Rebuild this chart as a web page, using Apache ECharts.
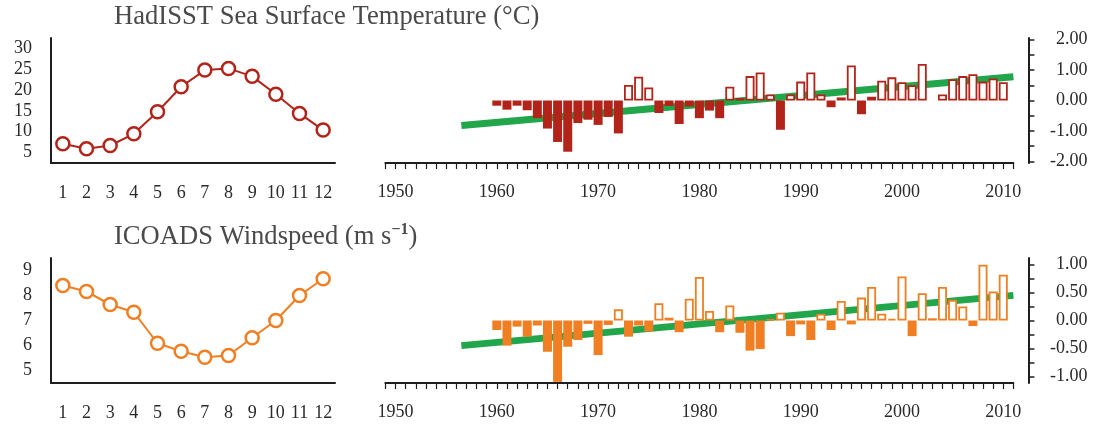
<!DOCTYPE html>
<html>
<head>
<meta charset="utf-8">
<script src="https://cdn.jsdelivr.net/npm/echarts@6/dist/echarts.min.js"></script>
<style>
html, body { margin: 0; padding: 0; background: #fff; }
#chart { width: 1105px; height: 426px; }
</style>
</head>
<body>
<div id="chart"></div>
<script>
// monthly climatology (left panels)
var months = ['1', '2', '3', '4', '5', '6', '7', '8', '9', '10', '11', '12'];
var sstMonthly = [7.1, 5.9, 6.7, 9.5, 14.8, 20.8, 24.8, 25.2, 23.3, 19.0, 14.4, 10.4];
var windMonthly = [8.4, 8.16, 7.64, 7.33, 6.09, 5.77, 5.53, 5.6, 6.31, 7.0, 8.0, 8.67];

// yearly anomalies (right panels), 1960..2010
var years = [1960, 1961, 1962, 1963, 1964, 1965, 1966, 1967, 1968, 1969,
             1970, 1971, 1972, 1973, 1974, 1975, 1976, 1977, 1978, 1979,
             1980, 1981, 1982, 1983, 1984, 1985, 1986, 1987, 1988, 1989,
             1990, 1991, 1992, 1993, 1994, 1995, 1996, 1997, 1998, 1999,
             2000, 2001, 2002, 2003, 2004, 2005, 2006, 2007, 2008, 2009, 2010];
var sstAnom = [-0.17, -0.30, -0.17, -0.32, -0.58, -0.92, -1.36, -1.68, -0.74, -0.63,
               -0.80, -0.54, -1.08, 0.51, 0.78, 0.43, -0.41, -0.18, -0.77, -0.20,
               -0.58, -0.33, -0.58, 0.45, 0.08, 0.80, 0.92, 0.20, -0.96, 0.20,
               0.62, 0.92, 0.20, -0.22, 0.10, 1.15, -0.45, 0.12, 0.65, 0.76,
               0.60, 0.50, 1.20, null, 0.20, 0.70, 0.80, 0.86, 0.62, 0.72, 0.60];
var windAnom = [-0.17, -0.45, -0.11, -0.29, -0.09, -0.56, -1.10, -0.47, -0.35, -0.06,
                -0.62, -0.08, 0.20, -0.29, -0.09, -0.20, 0.31, 0.05, -0.21, 0.39,
                0.78, 0.17, -0.21, 0.27, -0.22, -0.54, -0.51, 0.02, 0.14, -0.28,
                -0.07, -0.35, 0.12, -0.17, 0.35, -0.07, 0.41, 0.60, 0.12, 0.03,
                0.79, -0.28, 0.49, 0.04, 0.60, 0.37, 0.25, -0.10, 1.00, 0.52, 0.82];

// linear trends (end points)
var trendYears = [1956.5, 2011];
var sstTrend = [-0.82, 0.78];
var windTrend = [-0.45, 0.45];

// tick labels
var sstTicks = [5, 10, 15, 20, 25, 30];
var windTicks = [5, 6, 7, 8, 9];
var sstAnomTicks = [-2, -1, 0, 1, 2];
var windAnomTicks = [-1, -0.5, 0, 0.5, 1];
var decadeTicks = [1950, 1960, 1970, 1980, 1990, 2000, 2010];

var SERIF = '"Liberation Serif", "DejaVu Serif", serif';
var RED = '#b2241a';
var ORANGE = '#ef7f22';
var GREEN = '#21a64b';
var INK = '#1e1e1e';

function steps(a, b, s) {
    var out = [];
    for (var v = a; v <= b + 1e-9; v += s) out.push(+v.toFixed(4));
    return out;
}

function barData(vals, color) {
    var out = [];
    years.forEach(function (y, i) {
        var v = vals[i];
        if (v == null) return;
        if (v >= 0) {
            out.push({ value: [y, v], itemStyle: { color: '#fff', borderColor: color, borderWidth: 1.8 } });
        } else {
            out.push({ value: [y, v], itemStyle: { color: color } });
        }
    });
    return out;
}

var lineAxis = { show: true, onZero: false, lineStyle: { color: INK, width: 2 } };
var labelStyle = { color: '#2a2a2a', fontFamily: SERIF, fontSize: 18 };

function monthAxis(grid) {
    return {
        type: 'category', gridIndex: grid, data: months, boundaryGap: true,
        axisLine: lineAxis,
        axisTick: { alignWithLabel: true, length: 7, lineStyle: { color: INK, width: 1.5 } },
        axisLabel: Object.assign({ margin: 21 }, labelStyle),
        splitLine: { show: false }
    };
}

function yearAxis(grid) {
    return {
        type: 'value', gridIndex: grid, min: 1949, max: 2011,
        axisLine: lineAxis,
        axisTick: { customValues: steps(1949, 2011, 1), length: 6, lineStyle: { color: INK, width: 1.2 } },
        axisLabel: Object.assign({
            customValues: decadeTicks, margin: 20,
            formatter: function (v) { return String(v); }
        }, labelStyle),
        splitLine: { show: false }
    };
}

function leftY(grid, min, max, labels, tickStep) {
    return {
        type: 'value', gridIndex: grid, min: min, max: max,
        axisLine: lineAxis,
        axisTick: { customValues: steps(labels[0], labels[labels.length - 1], tickStep), length: 6, lineStyle: { color: INK, width: 1.5 } },
        axisLabel: Object.assign({ customValues: labels, margin: 19 }, labelStyle),
        splitLine: { show: false }
    };
}

function rightY(grid, min, max, labels, tickStep) {
    return {
        type: 'value', gridIndex: grid, position: 'right', offset: 15, min: min, max: max,
        axisLine: lineAxis,
        axisTick: { customValues: steps(labels[0], labels[labels.length - 1], tickStep), length: 6, lineStyle: { color: INK, width: 1.5 } },
        axisLabel: Object.assign({
            customValues: labels, margin: 59, align: 'right',
            formatter: function (v) { return v.toFixed(2); }
        }, labelStyle),
        splitLine: { show: false }
    };
}

function trendData(vals) {
    return trendYears.map(function (y, i) { return [y, vals[i]]; });
}

var titleText = { fontFamily: SERIF, fontSize: 26.6, fontWeight: 'normal', color: '#4a4a4a' };

var option = {
    animation: false,
    backgroundColor: '#fff',
    title: [
        { text: 'HadISST Sea Surface Temperature (°C)', left: 114, top: 4, padding: 0, textStyle: titleText },
        {
            text: '{t|ICOADS Windspeed (m s}{s|−1}{t|)}', left: 114, top: 222, padding: 0,
            textStyle: {
                rich: {
                    t: Object.assign({ lineHeight: 30 }, titleText),
                    s: { fontFamily: SERIF, fontSize: 16, color: '#4a4a4a', verticalAlign: 'top', lineHeight: 18 }
                }
            }
        }
    ],
    grid: [
        { left: 51, top: 38, width: 284, height: 125 },
        { left: 385.4, top: 38, width: 628, height: 125 },
        { left: 51, top: 258, width: 284, height: 125 },
        { left: 385.4, top: 258, width: 628, height: 125 }
    ],
    xAxis: [monthAxis(0), yearAxis(1), monthAxis(2), yearAxis(3)],
    yAxis: [
        leftY(0, 2.5, 32.5, sstTicks, 2.5),
        rightY(1, -2.05, 2.05, sstAnomTicks, 0.5),
        leftY(2, 4.5, 9.5, windTicks, 0.5),
        rightY(3, -1.12, 1.12, windAnomTicks, 0.25)
    ],
    series: [
        {
            type: 'line', xAxisIndex: 0, yAxisIndex: 0, data: sstMonthly,
            symbol: 'circle', symbolSize: 13,
            lineStyle: { color: RED, width: 2 },
            itemStyle: { color: '#fff', borderColor: RED, borderWidth: 2.5 }
        },
        {
            type: 'line', xAxisIndex: 1, yAxisIndex: 1, data: trendData(sstTrend),
            symbol: 'none', z: 1, lineStyle: { color: GREEN, width: 7, cap: 'butt' }
        },
        {
            type: 'bar', xAxisIndex: 1, yAxisIndex: 1, data: barData(sstAnom, RED),
            barWidth: 9, z: 3
        },
        {
            type: 'line', xAxisIndex: 2, yAxisIndex: 2, data: windMonthly,
            symbol: 'circle', symbolSize: 13,
            lineStyle: { color: ORANGE, width: 2 },
            itemStyle: { color: '#fff', borderColor: ORANGE, borderWidth: 2.5 }
        },
        {
            type: 'line', xAxisIndex: 3, yAxisIndex: 3, data: trendData(windTrend),
            symbol: 'none', z: 1, lineStyle: { color: GREEN, width: 7, cap: 'butt' }
        },
        {
            type: 'bar', xAxisIndex: 3, yAxisIndex: 3, data: barData(windAnom, ORANGE),
            barWidth: 9, z: 3
        }
    ]
};

var chart = echarts.init(document.getElementById('chart'));
chart.setOption(option);
</script>
</body>
</html>
